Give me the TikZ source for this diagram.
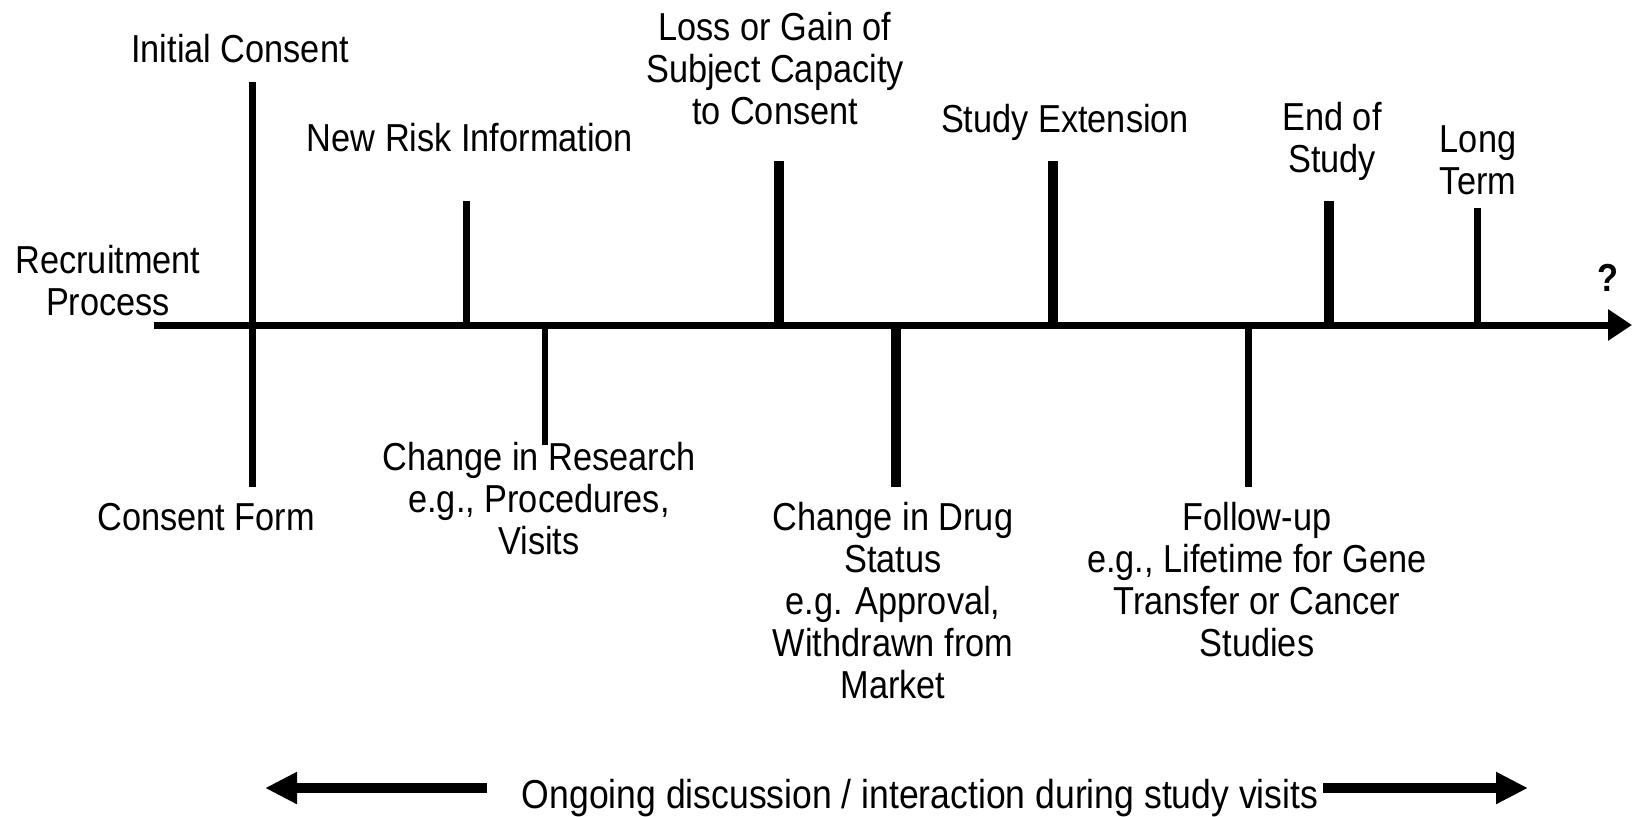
\documentclass[tikz,border=0pt]{standalone}
\usepackage{fontspec}
\setmainfont{Liberation Sans}[FakeStretch=0.88]
\usetikzlibrary{arrows.meta}
\begin{document}
\begin{tikzpicture}[x=0.5pt,y=-0.5pt,
  lbl/.style={font=\fontsize{19.5}{21}\selectfont, align=center, inner sep=0pt},
  tickthin/.style={line width=3.5pt},
  tickthick/.style={line width=5pt},
  axisline/.style={line width=3.5pt, -{Triangle[length=12pt,width=15pt]}},
  sidearrow/.style={line width=5pt, -{Triangle[length=16pt,width=15pt]}}]
\useasboundingbox (0,0) rectangle (1632,816);
\clip (0,0) rectangle (1632,816);
% axis
\coordinate (axL) at (154,325);
\coordinate (axR) at (1632,325);
\draw[axisline] (axL) -- (axR);
% ticks
\coordinate (icT) at (252,82);   \coordinate (icB) at (252,487);
\coordinate (nrT) at (466,201);  \coordinate (nrB) at (466,325);
\coordinate (crT) at (545,325);  \coordinate (crB) at (545,445);
\coordinate (lgT) at (779,161);  \coordinate (lgB) at (779,325);
\coordinate (cdT) at (896,325);  \coordinate (cdB) at (896,487);
\coordinate (seT) at (1053,161); \coordinate (seB) at (1053,325);
\coordinate (fuT) at (1248,325); \coordinate (fuB) at (1248,487);
\coordinate (esT) at (1329,201); \coordinate (esB) at (1329,325);
\coordinate (ltT) at (1477,208); \coordinate (ltB) at (1477,325);
\draw[tickthin] (icT) -- (icB);
\draw[tickthin] (nrT) -- (nrB);
\draw[line width=3pt] (crT) -- (crB);
\draw[tickthick] (lgT) -- (lgB);
\draw[tickthick] (cdT) -- (cdB);
\draw[tickthick] (seT) -- (seB);
\draw[tickthin] (fuT) -- (fuB);
\draw[tickthick] (esT) -- (esB);
\draw[tickthin] (ltT) -- (ltB);
% labels above
\node[lbl] (ic) at (240,49) {Initial Consent};
\node[lbl] (rp) at (108,281) {Recruitment\\Process};
\node[lbl] (nr) at (470,138) {New Risk Information};
\node[lbl] (lg) at (775,69) {Loss or Gain of\\Subject Capacity\\to Consent};
\node[lbl] (se) at (1065,122) {Study Extension};
\node[lbl] (es) at (1332,141) {End of\\Study};
\node[lbl] (lt) at (1478,160) {Long\\Term};
\node[lbl, font=\fontsize{19.5}{21}\selectfont\bfseries] (q) at (1608,278) {?};
% labels below
\node[lbl] (cf) at (206,517) {Consent Form};
\node[lbl] (cr) at (539,499) {Change in Research\\e.g., Procedures,\\Visits};
\node[lbl] (cd) at (893,601) {Change in Drug\\Status\\e.g. Approval,\\Withdrawn from\\Market};
\node[lbl] (fu) at (1257,580) {Follow-up\\e.g., Lifetime for Gene\\Transfer or Cancer\\Studies};
% bottom
\node[lbl, font=\fontsize{20.2}{21}\selectfont, anchor=base] (og) at (920,808) {Ongoing discussion / interaction during study visits};
\coordinate (laS) at (487,788); \coordinate (laE) at (265,788);
\coordinate (raS) at (1323,788); \coordinate (raE) at (1528,788);
\draw[sidearrow] (laS) -- (laE);
\draw[sidearrow] (raS) -- (raE);
\end{tikzpicture}
\end{document}
